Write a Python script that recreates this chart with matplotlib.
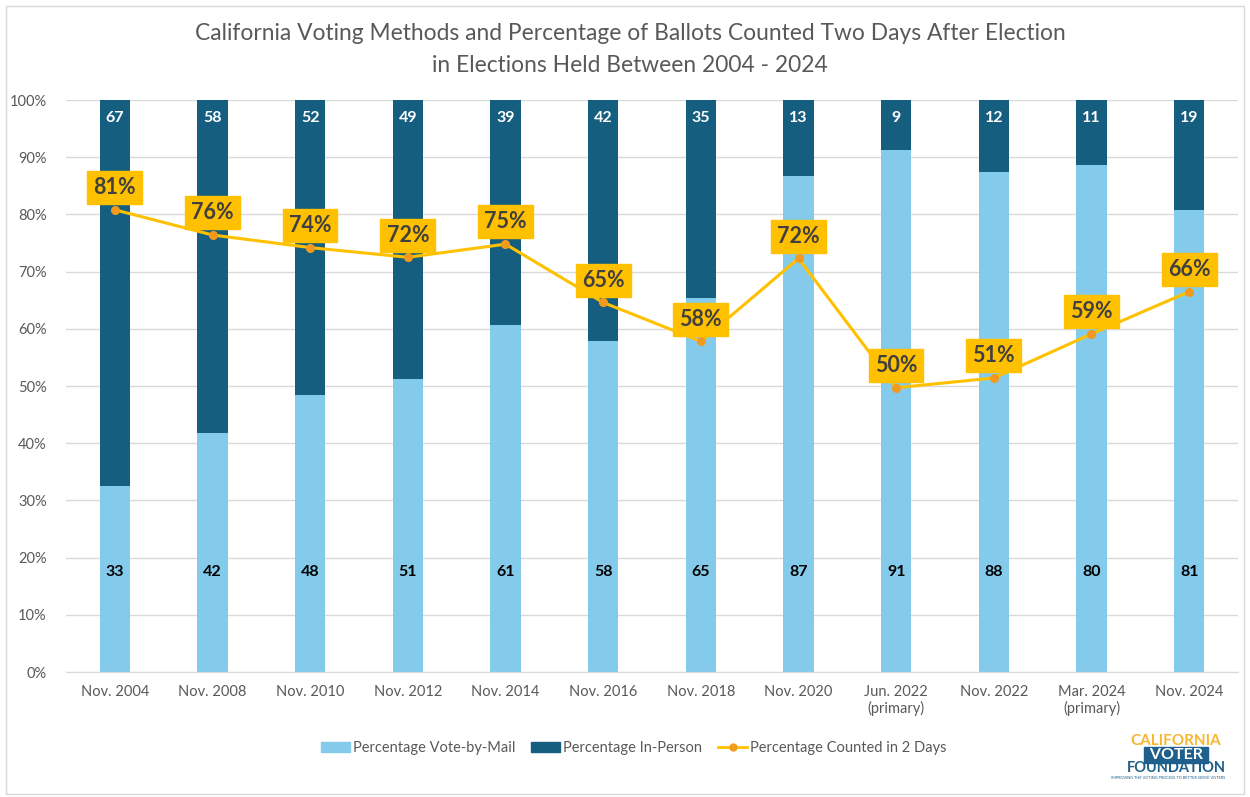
import numpy as np
import matplotlib.pyplot as plt
from matplotlib.patches import Rectangle, Patch
from matplotlib.lines import Line2D

plt.rcParams['font.family'] = ['Lato', 'DejaVu Sans']

# data
elections = ['Nov. 2004', 'Nov. 2008', 'Nov. 2010', 'Nov. 2012', 'Nov. 2014', 'Nov. 2016',
             'Nov. 2018', 'Nov. 2020', 'Jun. 2022\n(primary)', 'Nov. 2022',
             'Mar. 2024\n(primary)', 'Nov. 2024']
vbm_pct = [32.6, 41.7, 48.4, 51.2, 60.6, 57.8, 65.3, 86.7, 91.2, 87.5, 88.6, 80.8]
inperson_pct = [67.4, 58.3, 51.6, 48.8, 39.4, 42.2, 34.7, 13.3, 8.8, 12.5, 11.4, 19.2]
vbm_labels = ['33', '42', '48', '51', '61', '58', '65', '87', '91', '88', '80', '81']
inperson_labels = ['67', '58', '52', '49', '39', '42', '35', '13', '9', '12', '11', '19']
counted_pct = [80.8, 76.4, 74.2, 72.5, 74.8, 64.6, 57.8, 72.3, 49.7, 51.4, 59.1, 66.5]
counted_labels = ['81%', '76%', '74%', '72%', '75%', '65%', '58%', '72%', '50%', '51%', '59%', '66%']

light_blue = '#84CBEB'
dark_blue = '#155E80'
gold = '#FFC000'
orange = '#F39A1E'
grey_txt = '#595959'

fig = plt.figure(figsize=(12.5, 7.97), dpi=100)
ax = fig.add_axes([66 / 1250, 1 - 672 / 797, (1238 - 66) / 1250, (672 - 100) / 797])

x = np.arange(len(elections))
w = 0.31
ax.bar(x, vbm_pct, width=w, color=light_blue, zorder=2)
ax.bar(x, inperson_pct, width=w, bottom=vbm_pct, color=dark_blue, zorder=2)

for i in range(len(x)):
    ax.text(x[i], 17.4, vbm_labels[i], ha='center', va='center', fontsize=11.5,
            fontweight='bold', color='black', zorder=3)
    ax.text(x[i], 96.8, inperson_labels[i], ha='center', va='center', fontsize=11.5,
            fontweight='bold', color='white', zorder=3)

ax.plot(x, counted_pct, color=gold, lw=2.2, zorder=4)
ax.plot(x, counted_pct, 'o', color=orange, ms=5.5, zorder=5)
for i in range(len(x)):
    ax.annotate(counted_labels[i], (x[i], counted_pct[i]), xytext=(0, 16),
                textcoords='offset points', ha='center', va='center',
                fontsize=15.5, fontweight='bold', color='#404040', zorder=6,
                bbox=dict(boxstyle='square,pad=0.28', fc=gold, ec=gold))

ax.set_xlim(-0.5, len(x) - 0.5)
ax.set_ylim(0, 100)
ax.set_yticks(range(0, 101, 10))
ax.set_yticklabels([f'{v}%' for v in range(0, 101, 10)])
ax.set_xticks(x)
ax.set_xticklabels(elections)
ax.tick_params(axis='both', length=0, labelsize=10.5, colors=grey_txt)
ax.tick_params(axis='x', pad=9)
ax.tick_params(axis='y', pad=14)
ax.grid(axis='y', color='#D9D9D9', lw=1, zorder=0)
for s in ['top', 'right', 'left']:
    ax.spines[s].set_visible(False)
ax.spines['bottom'].set_color('#D9D9D9')

fig.text(0.504, 1 - 33 / 797, 'California Voting Methods and Percentage of Ballots Counted Two Days After Election',
         ha='center', va='center', fontsize=16.4, color=grey_txt)
fig.text(0.504, 1 - 65 / 797, 'in Elections Held Between 2004 - 2024',
         ha='center', va='center', fontsize=16.4, color=grey_txt)

handles = [Patch(color=light_blue, label='Percentage Vote-by-Mail'),
           Patch(color=dark_blue, label='Percentage In-Person'),
           Line2D([0], [0], color=gold, lw=2, marker='o', mfc=orange, mec=orange, ms=5,
                  label='Percentage Counted in 2 Days')]
fig.legend(handles=handles, loc='center', bbox_to_anchor=(0.507, 1 - 748 / 797), ncol=3,
           frameon=False, fontsize=10.5, labelcolor=grey_txt, handlelength=2.0,
           handletextpad=0.2, columnspacing=1.1)

# logo text
fig.text(1176 / 1250, 1 - 741 / 797, 'CALIFORNIA', ha='center', va='center', fontsize=11,
         fontweight='bold', color='#F7B731')
fig.text(1176 / 1250, 1 - 755 / 797, ' VOTER ', ha='center', va='center', fontsize=11.5,
         fontweight='bold', color='white',
         bbox=dict(boxstyle='square,pad=0.08', fc='#1F5F8B', ec='#1F5F8B'))
fig.text(1176 / 1250, 1 - 768 / 797, 'FOUNDATION', ha='center', va='center', fontsize=10.5,
         fontweight='bold', color='#1F5F8B')
fig.text(1168 / 1250, 1 - 778 / 797, 'IMPROVING THE VOTING PROCESS TO BETTER SERVE VOTERS',
         ha='center', va='center', fontsize=2.8, color='#1F5F8B')

fig.patches.append(Rectangle((6 / 1250, 3 / 797), 1 - 12 / 1250, 1 - 9 / 797,
                             transform=fig.transFigure, fill=False, ec='#D9D9D9', lw=1))

fig.savefig('out.png', dpi=100)
